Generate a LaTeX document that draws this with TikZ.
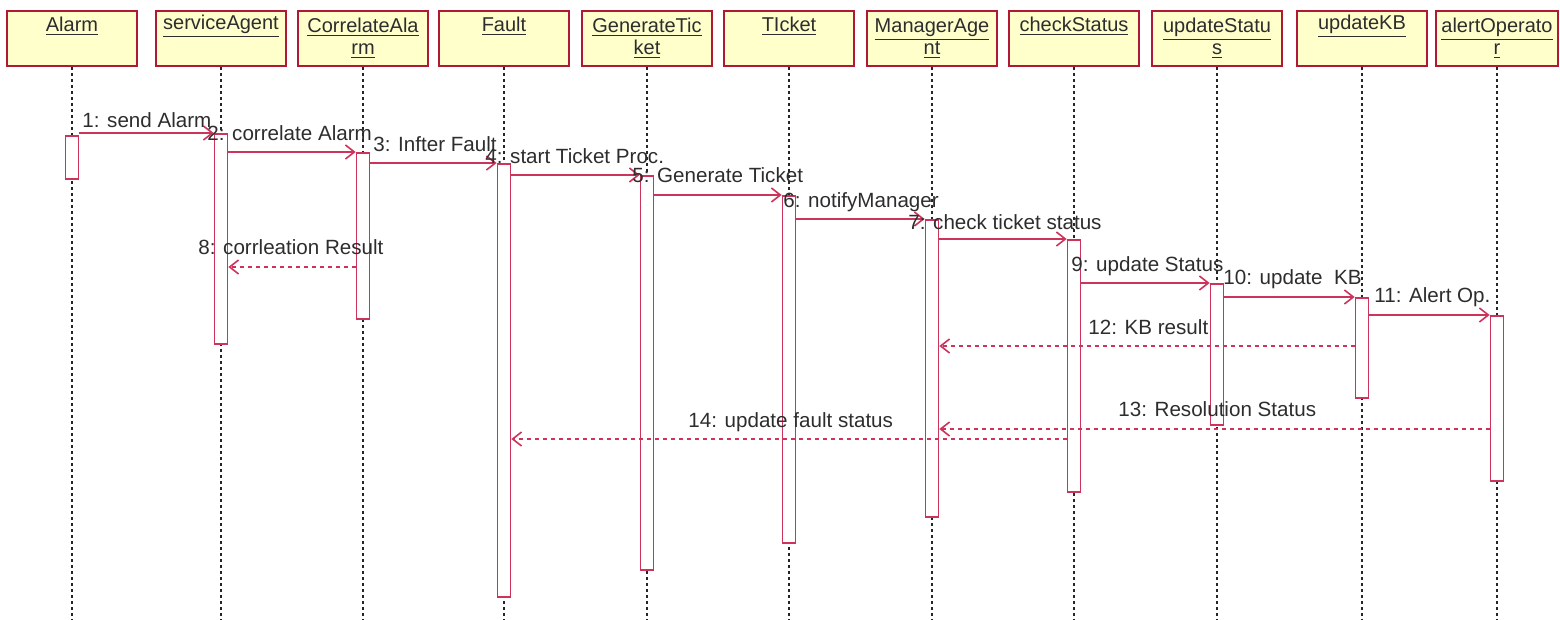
\documentclass[tikz,border=0pt]{standalone}
\usepackage{fontspec}
\setmainfont{Liberation Sans}
\usetikzlibrary{arrows.meta,positioning}
\definecolor{boxfill}{RGB}{255,255,204}
\definecolor{boxline}{RGB}{176,24,56}
\definecolor{msgcolor}{RGB}{204,52,92}
\definecolor{inkgray}{RGB}{45,45,45}
\tikzset{
  objbox/.style={draw=boxline, fill=boxfill, line width=1pt, minimum width=65pt,
    minimum height=27.5pt, text width=62pt, align=center, inner sep=1pt,
    font=\fontsize{10}{11}\selectfont, text=inkgray},
  lifeln/.style={line width=0.6pt, dash pattern=on 1.5pt off 1.5pt, black!85},
  actbar/.style={draw=msgcolor, fill=white, line width=0.8pt, minimum width=6.5pt,
    inner sep=0pt, anchor=north},
  msg/.style={-{Straight Barb[length=4.5pt,width=7pt]}, line width=0.8pt, msgcolor},
  retmsg/.style={msg, dash pattern=on 2pt off 2pt},
  msglab/.style={anchor=base west, inner sep=0pt, font=\fontsize{10.3}{12}\selectfont, text=inkgray},
}
\begin{document}
\begin{tikzpicture}[x=0.5pt, y=-0.5pt]
    \useasboundingbox (0,0) rectangle (1560,620);
    \coordinate (bottom) at (0,620);
    % object headers
    \foreach \name/\xx/\lab in {alarm/72/{\underline{Alarm}\\\strut},
        service/221/{\underline{serviceAgent}\\\strut},
        corr/363/{\underline{CorrelateAla}\\\underline{rm}},
        fault/504/{\underline{Fault}\\\strut},
        gen/647/{\underline{GenerateTic}\\\underline{ket}},
        ticket/789/{\underline{TIcket}\\\strut},
        manager/932/{\underline{ManagerAge}\\\underline{nt}},
        check/1074/{\underline{checkStatus}\\\strut},
        upstat/1217/{\underline{updateStatu}\\\underline{s}},
        upkb/1362/{\underline{updateKB}\\\strut}}
      \node[objbox] (\name) at (\xx,38.5) {\lab};
    \node[objbox, minimum width=61pt, text width=58pt] (alert) at (1497,38.5)
      {\underline{alertOperato}\\\underline{r}};
    % lifelines
    \foreach \name in {alarm,service,corr,fault,gen,ticket,manager,check,upstat,upkb,alert}
      \draw[lifeln] (\name.south) -- (\name.south |- bottom);
    % activation bars
    \foreach \name/\ya/\yb in {alarm/135/178, service/133/343, corr/152/318,
        fault/163/596, gen/175/569, ticket/195/542, manager/219/516,
        check/239/491, upstat/283/424, upkb/297/397, alert/315/480}
    {
      \pgfmathsetmacro\barh{(\yb-\ya)*0.5}
      \node[actbar, minimum height=\barh pt] (a\name) at (\name.south |- 0,\ya) {};
    }
    % calls
    \draw[msg] (aalarm.east |- aservice.north) -- (aservice.north west);
    \draw[msg] (aservice.east |- acorr.north) -- (acorr.north west);
    \draw[msg] (acorr.east |- afault.north) -- (afault.north west);
    \draw[msg] (afault.east |- agen.north) -- (agen.north west);
    \draw[msg] (agen.east |- aticket.north) -- (aticket.north west);
    \draw[msg] (aticket.east |- amanager.north) -- (amanager.north west);
    \draw[msg] (amanager.east |- acheck.north) -- (acheck.north west);
    \draw[msg] (acheck.east |- aupstat.north) -- (aupstat.north west);
    \draw[msg] (aupstat.east |- aupkb.north) -- (aupkb.north west);
    \draw[msg] (aupkb.east |- aalert.north) -- (aalert.north west);
    % returns
    \coordinate (r8) at (0,267);
    \coordinate (r12) at (0,346);
    \coordinate (r13) at (0,429);
    \coordinate (r14) at (0,439);
    \draw[retmsg] (acorr.west |- r8) -- (aservice.east |- r8);
    \draw[retmsg] (aupkb.west |- r12) -- (amanager.east |- r12);
    \draw[retmsg] (aalert.west |- r13) -- (amanager.east |- r13);
    \draw[retmsg] (acheck.west |- r14) -- (afault.east |- r14);
    % message labels
    \foreach \k/\xx/\yy/\txt in {1/82/128/{1: send Alarm}, 2/207/141/{2: correlate Alarm},
        3/373/152/{3: Infter Fault}, 4/485/164/{4: start Ticket Proc.},
        5/632/183/{5: Generate Ticket}, 6/783/208/{6: notifyManager},
        7/908/230/{7: check ticket status}, 8/198/255/{8: corrleation Result},
        9/1071/272/{9: update Status}, 10/1223/285/{10: update\ \ KB},
        11/1374/303/{11: Alert Op.}, 12/1088/335/{12: KB result},
        13/1118/417/{13: Resolution Status}, 14/688/428/{14: update fault status}}
      \node[msglab] (lab\k) at (\xx,\yy) {\txt};
  \end{tikzpicture}
\end{document}
